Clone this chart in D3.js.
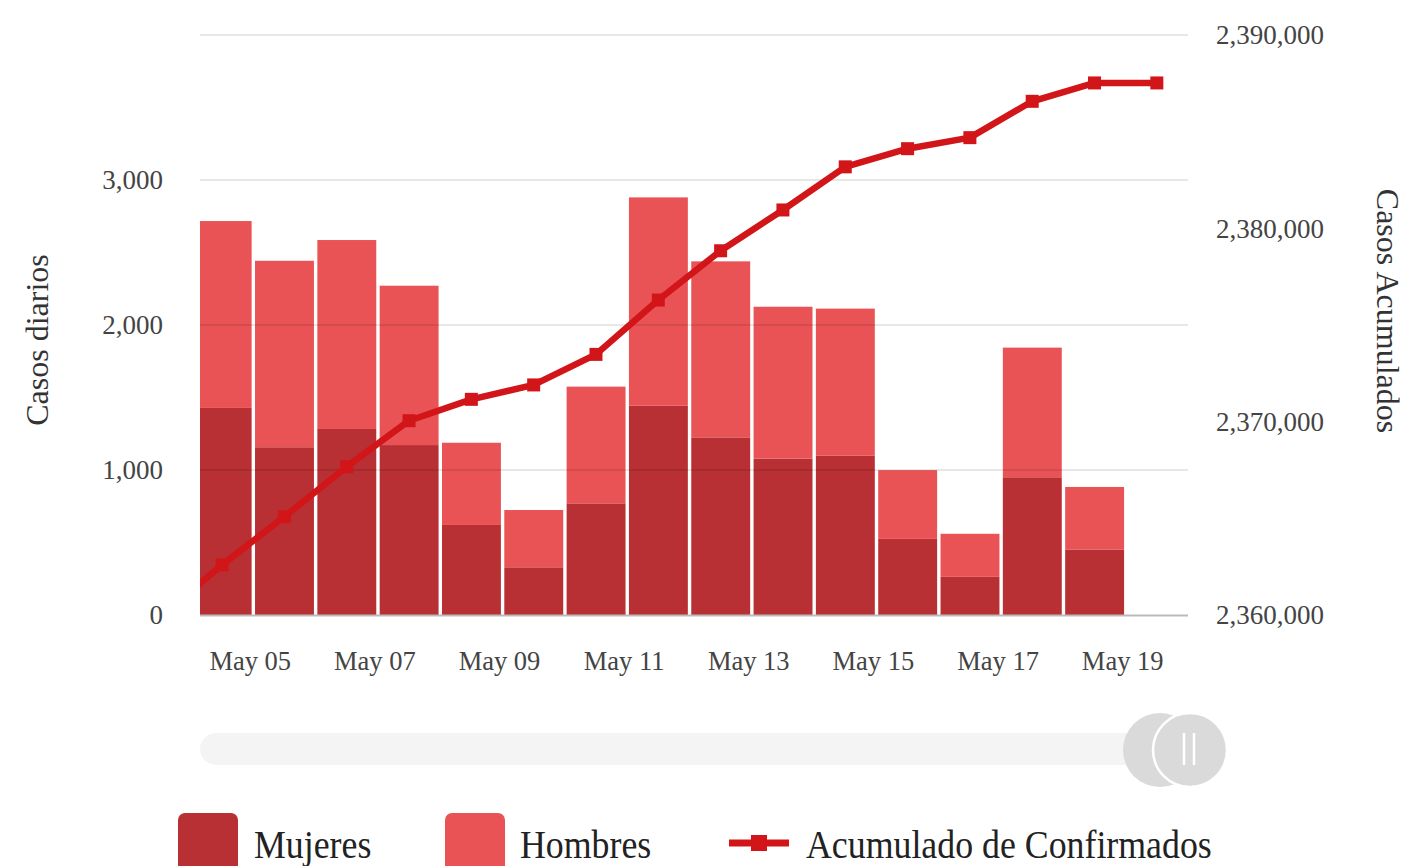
<!DOCTYPE html>
<html><head><meta charset="utf-8">
<script src="https://cdn.jsdelivr.net/npm/d3@7"></script>
<style>body{margin:0;background:#fff;}svg{display:block;font-family:"Liberation Serif",serif;}</style>
</head><body>
<svg id="c" width="1408" height="866"></svg>
<script>
const days = ["2021-05-04","2021-05-05","2021-05-06","2021-05-07","2021-05-08","2021-05-09","2021-05-10","2021-05-11","2021-05-12","2021-05-13","2021-05-14","2021-05-15","2021-05-16","2021-05-17","2021-05-18","2021-05-19"];
const mujeres = [1428,1157,1283,1172,621,329,770,1443,1225,1079,1098,525,263,950,452,0];
const hombres = [1289,1286,1303,1099,567,395,805,1437,1214,1047,1015,474,297,894,431,0];
const cumDays = ["2021-05-03"].concat(days);
const acumulado = [2359870,2362590,2365085,2367670,2370050,2371155,2371900,2373480,2376290,2378840,2380950,2383180,2384120,2384690,2386570,2387520,2387520];
const leftTicks = [0,1000,2000,3000];
const rightTicks = [2360000,2370000,2380000,2390000];
const gridTicks = [0,1000,2000,3000,4000];
const legendLabels = ["Mujeres","Hombres","Acumulado de Confirmados"];

const C_M = "#b83033", C_H = "#ea5356", C_L = "#d11519";
const parse = d3.timeParse("%Y-%m-%d");
const svg = d3.select("#c");
const L = 200, R = 1188, T = 35, B = 615;

const x = d3.scaleTime().domain([new Date(2021,4,4,3,30), new Date(2021,4,20)]).range([L,R]);
const yL = d3.scaleLinear().domain([0,4000]).range([B,T]);
const yR = d3.scaleLinear().domain([2360000,2390000]).range([B,T]);

svg.append("defs").append("clipPath").attr("id","plot").append("rect")
  .attr("x",L).attr("y",0).attr("width",R-L).attr("height",B+2);

// bars
const g = svg.append("g").attr("clip-path","url(#plot)");
days.forEach((d,i)=>{
  const t0 = parse(d), t1 = d3.timeDay.offset(t0,1);
  const x0 = x(t0)+1.8, w = x(t1)-x(t0)-3.4;
  g.append("rect").attr("x",x0).attr("width",w)
    .attr("y",yL(mujeres[i])).attr("height",yL(0)-yL(mujeres[i])).attr("fill",C_M);
  g.append("rect").attr("x",x0).attr("width",w)
    .attr("y",yL(mujeres[i]+hombres[i])).attr("height",yL(mujeres[i])-yL(mujeres[i]+hombres[i])).attr("fill",C_H);
});

// gridlines (on top, translucent)
svg.append("g").selectAll("line").data(gridTicks.slice(1)).join("line")
  .attr("x1",L).attr("x2",R).attr("y1",d=>yL(d)).attr("y2",d=>yL(d))
  .attr("stroke","#000").attr("stroke-opacity",0.13).attr("stroke-width",1.5);
svg.append("line").attr("x1",L).attr("x2",R).attr("y1",yL(0)+0.5).attr("y2",yL(0)+0.5)
  .attr("stroke","#bbb").attr("stroke-width",2);

// line
const pts = cumDays.map((d,i)=>[x(d3.timeHour.offset(parse(d),12)), yR(acumulado[i])]);
const lg = svg.append("g").attr("clip-path","url(#plot)");
lg.append("path").attr("d",d3.line()(pts)).attr("fill","none").attr("stroke",C_L)
  .attr("stroke-width",6.5).attr("stroke-linejoin","round");
lg.selectAll("rect.m").data(pts).join("rect").attr("class","m")
  .attr("x",p=>p[0]-6.5).attr("y",p=>p[1]-6.5).attr("width",13).attr("height",13).attr("fill",C_L);

// left axis labels
svg.append("g").selectAll("text").data(leftTicks).join("text")
  .attr("x",163).attr("y",d=>yL(d)).attr("dy","0.35em").attr("text-anchor","end")
  .attr("font-size",27).attr("fill","#444").text(d3.format(","));
// right axis labels
svg.append("g").selectAll("text").data(rightTicks).join("text")
  .attr("x",1216).attr("y",d=>yR(d)).attr("dy","0.35em").attr("text-anchor","start")
  .attr("font-size",27).attr("fill","#444").text(d3.format(","));
// x axis labels
const xt = d3.timeDay.range(new Date(2021,4,5), new Date(2021,4,20), 2);
svg.append("g").selectAll("text").data(xt).join("text")
  .attr("x",d=>x(d)-3).attr("y",661).attr("dy","0.35em").attr("text-anchor","middle")
  .attr("font-size",26.5).attr("fill","#444").text(d3.timeFormat("%b %d"));

// axis titles
svg.append("text").attr("transform","translate(37,340) rotate(-90)").attr("text-anchor","middle")
  .attr("dy","0.35em").attr("font-size",32).attr("fill","#333").text("Casos diarios");
svg.append("text").attr("transform","translate(1388,311) rotate(90)").attr("text-anchor","middle")
  .attr("dy","0.35em").attr("font-size",32).attr("fill","#333").text("Casos Acumulados");

// slider
svg.append("rect").attr("x",200).attr("y",733).attr("width",1000).attr("height",32).attr("rx",16)
  .attr("fill","#f4f4f4");
svg.append("circle").attr("cx",1160).attr("cy",750).attr("r",37).attr("fill","#dadada");
svg.append("circle").attr("cx",1190).attr("cy",750).attr("r",37).attr("fill","#dadada")
  .attr("stroke","#fff").attr("stroke-width",2.5);
[1184,1194].forEach(xx=>svg.append("line").attr("x1",xx).attr("x2",xx).attr("y1",733).attr("y2",765)
  .attr("stroke","#fff").attr("stroke-width",2.5));

// legend
const leg = svg.append("g");
leg.append("rect").attr("x",178).attr("y",813).attr("width",60).attr("height",70).attr("rx",7).attr("fill",C_M);
leg.append("rect").attr("x",445).attr("y",813).attr("width",60).attr("height",70).attr("rx",7).attr("fill",C_H);
leg.append("line").attr("x1",729).attr("x2",789).attr("y1",843).attr("y2",843).attr("stroke",C_L).attr("stroke-width",7);
leg.append("rect").attr("x",751).attr("y",835).attr("width",16).attr("height",16).attr("fill",C_L);
[[254,0],[520,1],[806,2]].forEach(([xx,i])=>leg.append("text")
  .attr("transform",`translate(${xx},858) scale(0.995,1.12)`)
  .attr("font-size",36).attr("fill","#222").text(legendLabels[i]));
</script>
</body></html>
